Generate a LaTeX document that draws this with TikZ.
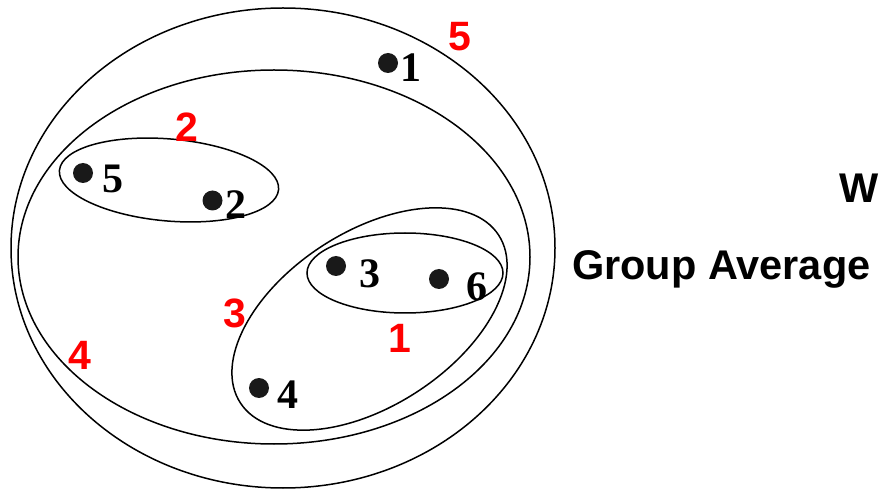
\documentclass[tikz,border=0pt]{standalone}
\usepackage{fontspec}
\setmainfont{Liberation Serif}
\setsansfont{Liberation Sans}
\begin{document}
\begin{tikzpicture}[x=1pt,y=-1pt,
  ring/.style={line width=1.5pt},
  pt/.style={circle,fill=black!90,inner sep=0pt,minimum size=20pt},
  num/.style={font=\fontsize{42}{42}\selectfont\bfseries,inner sep=0pt},
  lvl/.style={font=\sffamily\fontsize{41}{41}\selectfont\bfseries,text=red,inner sep=0pt},
  title/.style={font=\sffamily\fontsize{41.5}{41.5}\selectfont\bfseries,inner sep=0pt,anchor=base west}]
\useasboundingbox (0,0) rectangle (879,489);
% clusters
\draw[ring] (283,248) ellipse [x radius=272, y radius=240];
\draw[ring] (274,257) ellipse [x radius=256, y radius=187];
\draw[ring] (169,180) ellipse [x radius=110, y radius=41, rotate=-5];
\draw[ring] (405,273) ellipse [x radius=98, y radius=40];
\draw[ring] (369.5,319) ellipse [x radius=154, y radius=87, rotate=33];
% points
\node[pt] (p1) at (388,63) {};
\node[pt] (p5) at (83,173) {};
\node[pt] (p2) at (212.5,200.5) {};
\node[pt] (p3) at (336,266) {};
\node[pt] (p6) at (439,279) {};
\node[pt] (p4) at (259,388) {};
% point labels
\node[num] (n1) at (411,67.5) {1};
\node[num] (n5) at (112.5,178.5) {5};
\node[num] (n2) at (236,205) {2};
\node[num] (n3) at (370,274) {3};
\node[num] (n6) at (477,287) {6};
\node[num] (n4) at (287.5,395) {4};
% merge order labels
\node[lvl] (l5) at (460,37) {5};
\node[lvl] (l2) at (187,127) {2};
\node[lvl] (l3) at (234.5,313) {3};
\node[lvl] (l1) at (400,338) {1};
\node[lvl] (l4) at (80,355) {4};
% titles
\node[title] (w) at (839,203) {W};
\node[title] (ga) at (572,280) {Group Average};
\end{tikzpicture}
\end{document}
